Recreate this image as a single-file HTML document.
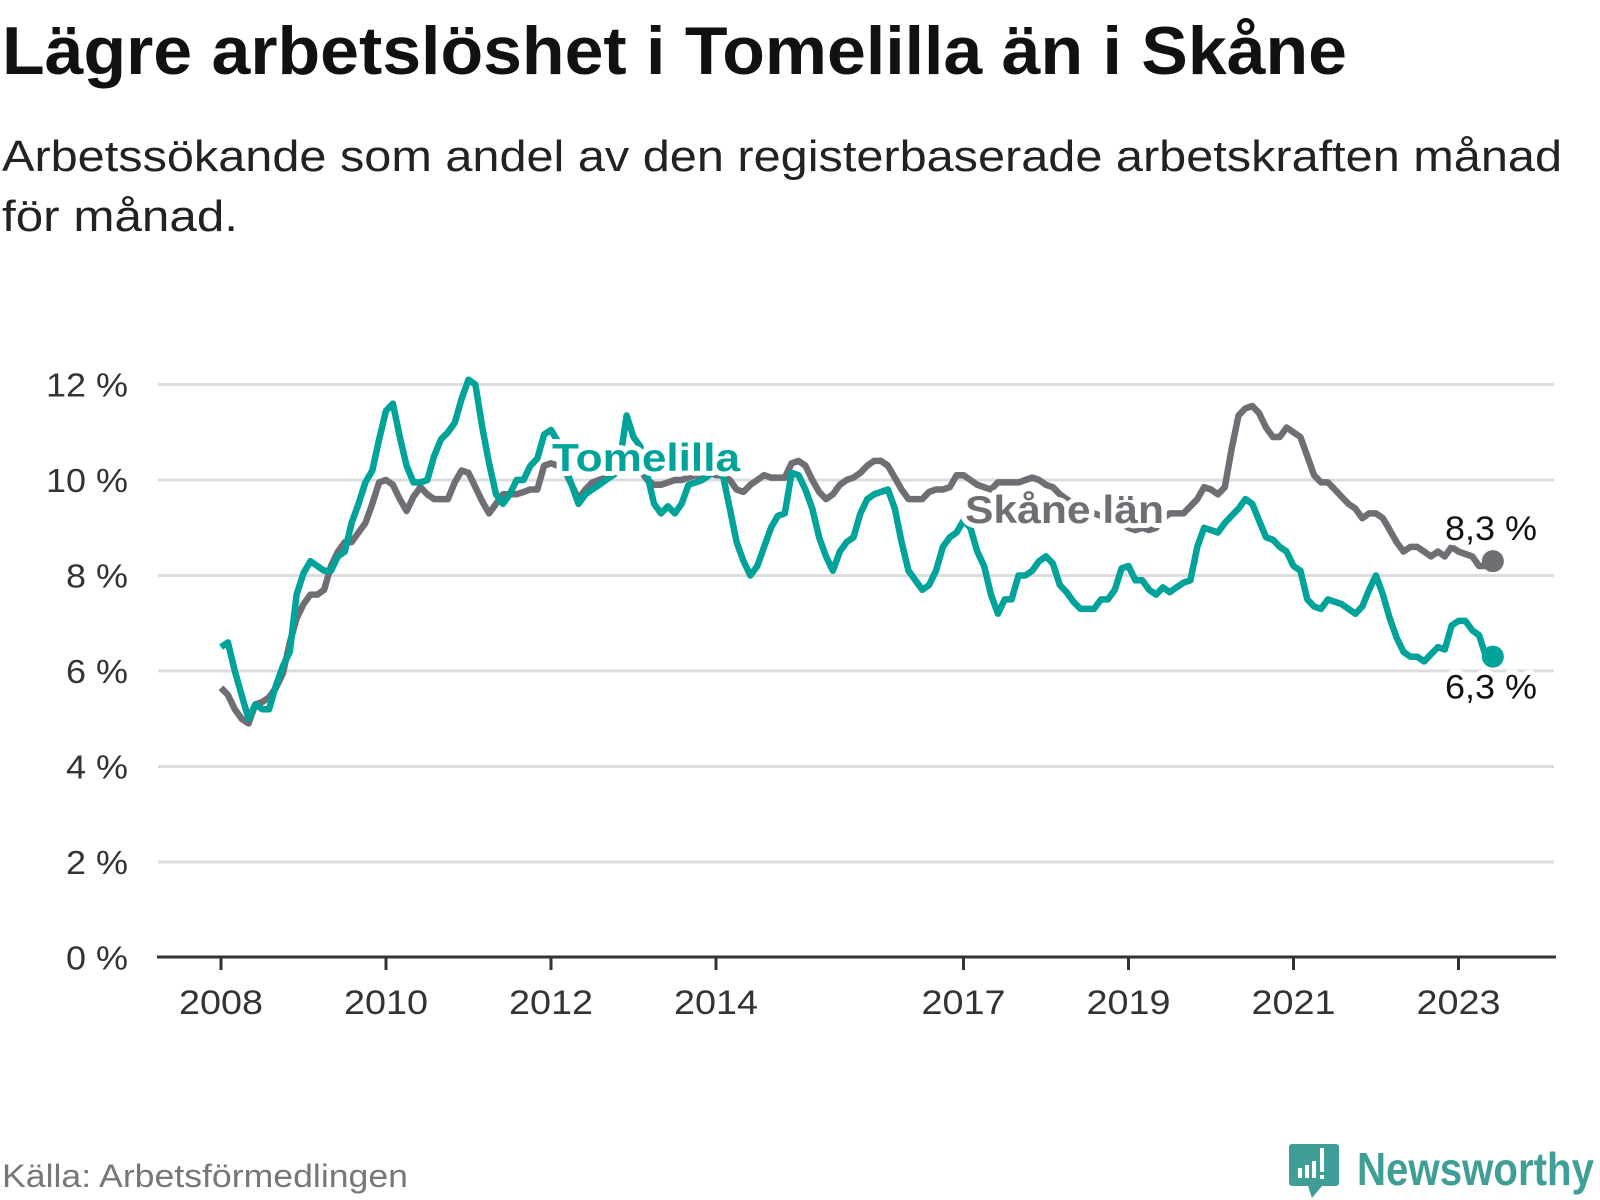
<!DOCTYPE html>
<html><head><meta charset="utf-8"><style>
html,body{margin:0;padding:0;background:#fff;}
svg{display:block;font-family:"Liberation Sans",sans-serif;}
</style></head><body>
<svg id="chart" width="1600" height="1200" viewBox="0 0 1600 1200">
<text x="2" y="74" font-size="68" font-weight="bold" fill="#111" textLength="1345" lengthAdjust="spacingAndGlyphs">Lägre arbetslöshet i Tomelilla än i Skåne</text>
<text x="2" y="171" font-size="44" fill="#222" textLength="1560" lengthAdjust="spacingAndGlyphs">Arbetssökande som andel av den registerbaserade arbetskraften månad</text>
<text x="2" y="231" font-size="44" fill="#222" textLength="236" lengthAdjust="spacingAndGlyphs">för månad.</text>
<g id="grid"></g>
<g id="yticks"></g>
<g id="xaxis"></g>
<g id="series"></g>
<g id="labels"></g>
<text x="2" y="1187" font-size="32" fill="#777" textLength="406" lengthAdjust="spacingAndGlyphs">Källa: Arbetsförmedlingen</text>
<g>
<path d="M1292 1144 h44 a3 3 0 0 1 3 3 v36 a3 3 0 0 1 -3 3 h-14 l-10 12 l-4 -12 h-16 a3 3 0 0 1 -3 -3 v-36 a3 3 0 0 1 3 -3z" fill="#3f9e96"/>
<rect x="1298" y="1168" width="4" height="10" fill="#fff"/><rect x="1305" y="1165" width="4" height="13" fill="#fff"/><rect x="1312" y="1161" width="4" height="17" fill="#fff"/><rect x="1320" y="1148" width="4" height="24" fill="#fff"/><rect x="1320" y="1175" width="4" height="4" fill="#fff"/>
<text x="1357" y="1185" font-size="46" font-weight="bold" fill="#3f9e96" textLength="237" lengthAdjust="spacingAndGlyphs">Newsworthy</text>
</g>
</svg>
<script>
const startYear = 2008;
const yTicks = [0, 2, 4, 6, 8, 10, 12];
const xTickYears = [2008, 2010, 2012, 2014, 2017, 2019, 2021, 2023];
const tomelilla = [6.5,6.6,6.0,5.5,5.0,5.3,5.2,5.2,5.7,6.1,6.4,7.6,8.05,8.3,8.2,8.1,8.1,8.4,8.5,9.1,9.5,9.95,10.2,10.85,11.45,11.6,10.9,10.3,9.95,9.95,10.0,10.5,10.85,11.0,11.2,11.7,12.1,12.0,11.1,10.35,9.7,9.5,9.7,10.0,10.0,10.3,10.45,10.95,11.05,10.8,10.3,9.9,9.5,9.7,9.8,9.9,10.0,10.1,10.4,11.35,10.9,10.7,10.1,9.5,9.3,9.45,9.3,9.5,9.9,9.95,10.0,10.1,10.2,10.1,9.4,8.7,8.3,8.0,8.2,8.6,9.0,9.25,9.3,10.15,10.1,9.8,9.4,8.8,8.4,8.1,8.5,8.7,8.8,9.3,9.6,9.7,9.75,9.8,9.4,8.7,8.1,7.9,7.7,7.8,8.1,8.6,8.8,8.9,9.15,9.0,8.5,8.2,7.6,7.2,7.5,7.5,8.0,8.0,8.1,8.3,8.4,8.25,7.8,7.65,7.45,7.3,7.3,7.3,7.5,7.5,7.7,8.15,8.2,7.9,7.9,7.7,7.6,7.75,7.65,7.75,7.85,7.9,8.6,9.0,8.95,8.9,9.1,9.25,9.4,9.6,9.5,9.15,8.8,8.75,8.6,8.5,8.2,8.1,7.5,7.35,7.3,7.5,7.45,7.4,7.3,7.2,7.35,7.7,8.0,7.6,7.1,6.7,6.4,6.3,6.3,6.2,6.35,6.5,6.45,6.95,7.05,7.05,6.85,6.75,6.3,6.3];
const skane = [5.65,5.5,5.2,5.0,4.9,5.3,5.35,5.45,5.65,5.95,6.6,7.1,7.4,7.6,7.6,7.7,8.2,8.5,8.7,8.7,8.9,9.1,9.5,9.95,10.0,9.9,9.6,9.35,9.65,9.85,9.7,9.6,9.6,9.6,9.95,10.2,10.15,9.85,9.55,9.3,9.5,9.7,9.7,9.7,9.75,9.8,9.8,10.3,10.35,10.3,10.2,9.9,9.6,9.8,9.95,10.0,10.05,10.1,10.2,10.3,10.3,10.2,10.0,9.9,9.9,9.95,10.0,10.0,10.05,10.1,10.1,10.15,10.1,10.1,10.0,9.8,9.75,9.9,10.0,10.1,10.05,10.05,10.05,10.35,10.4,10.3,10.0,9.75,9.6,9.7,9.9,10.0,10.05,10.15,10.3,10.4,10.4,10.3,10.05,9.8,9.6,9.6,9.6,9.75,9.8,9.8,9.85,10.1,10.1,10.0,9.9,9.85,9.8,9.95,9.95,9.95,9.95,10.0,10.05,10.0,9.9,9.85,9.7,9.6,9.5,9.4,9.3,9.3,9.25,9.2,9.15,9.1,9.0,8.95,9.0,8.95,9.0,9.2,9.3,9.3,9.3,9.45,9.6,9.85,9.8,9.7,9.85,10.65,11.35,11.5,11.55,11.4,11.1,10.9,10.9,11.1,11.0,10.9,10.5,10.1,9.95,9.95,9.8,9.65,9.5,9.4,9.2,9.3,9.3,9.2,8.95,8.7,8.5,8.6,8.6,8.5,8.4,8.5,8.4,8.6,8.5,8.45,8.4,8.2,8.2,8.3];
const endLabels = ["8,3 %", "6,3 %"];

const NS = "http://www.w3.org/2000/svg";
const X0 = 221, MONTH = 82.5/12, Y0 = 957.5, UNIT = 47.75;
const xScale = t => X0 + t*MONTH;
const yScale = v => Y0 - v*UNIT;
function mk(tag, attrs, parent){const e=document.createElementNS(NS,tag);for(const k in attrs)e.setAttribute(k,attrs[k]);parent.appendChild(e);return e;}
const grid=document.getElementById('grid'), yt=document.getElementById('yticks'), xa=document.getElementById('xaxis'), se=document.getElementById('series'), lb=document.getElementById('labels');
yTicks.forEach(v=>{
  if(v>0){const l=mk('line',{x1:158,x2:1554,y1:yScale(v),y2:yScale(v),stroke:'#dcdcdc','stroke-width':3},grid);
  
  }
  const s=String(v)+' %';
  const t=mk('text',{x:128,y:yScale(v)+12,'text-anchor':'end','font-size':33,fill:'#333',textLength:(s.length===4?82:62),lengthAdjust:'spacingAndGlyphs'},yt);
  t.textContent=s;
  
  
});
const ax=mk('line',{x1:157,x2:1556,y1:957,y2:957,stroke:'#333','stroke-width':3},xa);


xTickYears.forEach(y=>{
  const x=xScale((y-startYear)*12);
  const tk=mk('line',{x1:x,x2:x,y1:957,y2:970,stroke:'#333','stroke-width':3},xa);
  
  
  const t=mk('text',{x:x,y:1014,'text-anchor':'middle','font-size':34,fill:'#333',textLength:84,lengthAdjust:'spacingAndGlyphs'},xa);
  t.textContent=y;
  
  
});
function line(data,color,name){
  const d=data.map((v,i)=>(i?'L':'M')+xScale(i).toFixed(1)+' '+yScale(v).toFixed(1)).join(' ');
  const p=mk('path',{d:d,fill:'none',stroke:color,'stroke-width':6.5,'stroke-linejoin':'round'},se);
  
  
  const n=data.length-1;
  const c=mk('circle',{cx:xScale(n),cy:yScale(data[n]),r:11,fill:color},se);
  
  
}
line(skane,'#6f6e74','skane');
line(tomelilla,'#00a39a','tomelilla');
function label(txt,x,y,color,size,bold,name,len){
  const h=mk('text',{x:x,y:y,'font-size':size,'font-weight':bold?'bold':'normal',fill:'#fff',stroke:'#fff','stroke-width':10,'stroke-linejoin':'round',textLength:len,lengthAdjust:'spacingAndGlyphs'},lb);
  h.textContent=txt;
  
  
  const t=mk('text',{x:x,y:y,'font-size':size,'font-weight':bold?'bold':'normal',fill:color,textLength:len,lengthAdjust:'spacingAndGlyphs'},lb);
  t.textContent=txt;
  
  
}
label('Tomelilla',552,471,'#00a39a',39,true,'tomelilla-label',188);
label('Skåne län',965,523,'#6f6e74',39,true,'skane-label',199);
const n=skane.length-1;
label(endLabels[0],1445,yScale(skane[n])-21,'#111',34,false,'skane-end-value',92);
label(endLabels[1],1445,yScale(tomelilla[n])+42,'#111',34,false,'tomelilla-end-value',92);
</script>
</body></html>
